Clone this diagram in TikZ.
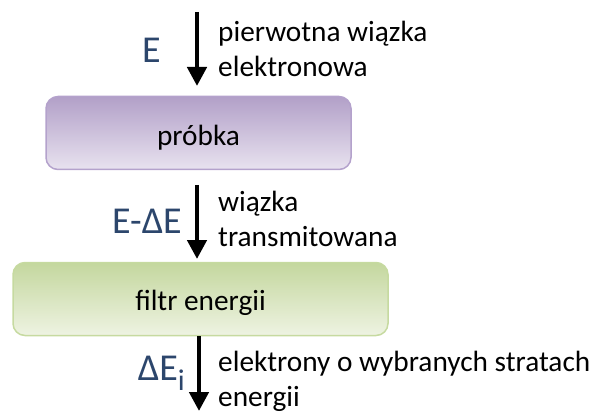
\documentclass[tikz,border=0pt]{standalone}
\usepackage{fontspec}
\setmainfont{Carlito}
\usetikzlibrary{arrows.meta}

\definecolor{labelblue}{RGB}{44,70,108}
\definecolor{purpledark}{RGB}{178,160,200}
\definecolor{purplelight}{RGB}{232,226,239}
\definecolor{purpleline}{RGB}{180,162,204}
\definecolor{greendark}{RGB}{196,215,158}
\definecolor{greenlight}{RGB}{238,243,226}
\definecolor{greenline}{RGB}{198,218,160}

\tikzset{
  stagebox/.style={draw, line width=1.5pt, rounded corners=12pt,
    shading angle=-20, inner sep=0pt, text depth=6pt,
    font=\fontsize{29.3}{35}\selectfont},
  samplebox/.style={stagebox, draw=purpleline, top color=purpledark, bottom color=purplelight,
    minimum width=305pt, minimum height=73pt, text height=32pt},
  filterbox/.style={stagebox, draw=greenline, top color=greendark, bottom color=greenlight,
    minimum width=375pt, minimum height=73pt, text height=28pt},
  beam/.style={line width=4.5pt, -{Triangle[width=19pt,length=19pt]}},
  note/.style={anchor=base west, align=left, inner sep=0pt,
    font=\fontsize{29.3}{35}\selectfont},
  energy/.style={anchor=base east, inner sep=0pt, text=labelblue,
    font=\fontsize{38}{40}\selectfont}
}

\begin{document}
\begin{tikzpicture}[x=1pt, y=1pt]
  \useasboundingbox (0,0) rectangle (597,413);

  % sample and energy filter
  \node[samplebox] (sample) at (198.5,280) {próbka};
  \node[filterbox] (filter) at (200.5,114) {filtr energii};

  % beam ends
  \coordinate (b1top) at (197,401);
  \coordinate (b1end) at (197,327);
  \coordinate (b2top) at (197,228);
  \coordinate (b2end) at (197,154);
  \coordinate (b3end) at (199,2);

  % beams
  \draw[beam] (b1top) -- (b1end);
  \draw[beam] (b2top) -- (b2end);
  \draw[beam] (filter.south -| b3end) -- (b3end);

  % beam descriptions (anchored on the baseline of the last line)
  \node[note] (n1) at (218,336) {pierwotna wiązka\\elektronowa};
  \node[note] (n2) at (218,167) {wiązka\\transmitowana};
  \node[note] (n3) at (218,7) {elektrony o wybranych stratach\\energii};

  % beam energies
  \node[energy] (e1) at (161,350) {E};
  \node[energy] (e2) at (182,180) {E-ΔE};
  \node[energy] (e3) at (185,33) {ΔE\raisebox{-10pt}{\fontsize{30}{32}\selectfont i}};
\end{tikzpicture}
\end{document}
